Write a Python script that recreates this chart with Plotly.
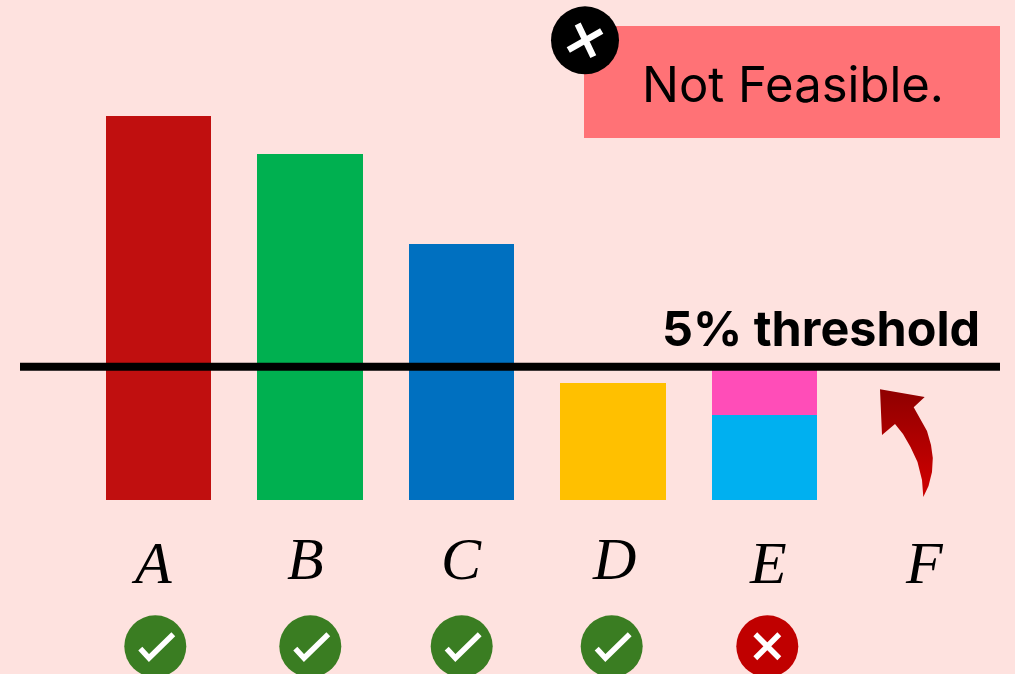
import plotly.graph_objects as go

categories = ["A", "B", "C", "D", "E", "F"]
solid_values = [14.40, 12.98, 9.60, 4.39, 3.19, 0]
solid_colors = ["#C00F0F", "#00B050", "#0070C0", "#FFC000", "#00B0F0", "#00B0F0"]
upper_values = [0, 0, 0, 0, 1.81, 0]
upper_color = "#FF4DB8"
threshold = 5
threshold_label = "5% threshold"
banner_label = "Not Feasible."
status = ["ok", "ok", "ok", "ok", "fail"]

# Decoration layout, in page pixels (drawn on a hidden overlay axis pair)
W, H = 1015, 674
UNIT_X, ZERO_X = 151.5, 158.5
UNIT_Y, ZERO_Y = 26.66, 500
status_x = [155.3, 310.3, 461.7, 611.7, 767.3]
status_y = 646.3
label_x = [151, 305, 461, 614, 768, 924]
label_y = [563, 559, 559, 559, 563, 563]
arrow_x = [880, 924.7, 913.7, 921, 927, 931, 932.8, 932, 928.5, 923.3, 922, 917.5, 910.5, 903, 895, 882, 880]
arrow_y = [389.3, 397, 407.3, 420, 431, 445, 458, 472, 486, 497, 480, 462, 447, 434, 424, 435, 389.3]

fig = go.Figure()
fig.add_bar(x=categories, y=solid_values, marker=dict(color=solid_colors, line_width=0), width=0.695)
fig.add_bar(x=categories, y=upper_values, marker=dict(color=upper_color, line_width=0), width=0.695)

fig.add_scatter(
    x=status_x, y=[status_y] * len(status_x), xaxis="x2", yaxis="y2", mode="markers",
    marker=dict(size=62, line_width=0, color=["#3A7D22" if s == "ok" else "#C00000" for s in status]),
)
fig.add_scatter(
    x=[585], y=[40.3], xaxis="x2", yaxis="y2", mode="markers",
    marker=dict(size=68, color="#000000", line_width=0),
)
fig.add_scatter(
    x=arrow_x, y=arrow_y, xaxis="x2", yaxis="y2", mode="lines", fill="toself",
    line=dict(width=0),
    fillgradient=dict(type="vertical", start=395, stop=480,
                      colorscale=[[0, "#920000"], [1, "#C80000"]]),
)

shapes = [
    dict(type="rect", xref="x2", yref="y2", x0=584, x1=1000, y0=26, y1=138,
         fillcolor="#FF7276", line_width=0, layer="below"),
    dict(type="line", xref="paper", yref="y", x0=20 / W, x1=1000 / W, y0=threshold, y1=threshold,
         line=dict(color="#000000", width=8)),
]


def stroke(path, width, color="#FFFFFF"):
    shapes.append(dict(type="path", xref="x2", yref="y2", path=path, line=dict(color=color, width=width)))


for sx, s in zip(status_x, status):
    if s == "ok":
        stroke(f"M{sx-15},{status_y+2.3} L{sx-6.3},{status_y+11.7} L{sx+18},{status_y-12}", 5.5)
    else:
        stroke(f"M{sx-12},{status_y-12} L{sx+12},{status_y+12} M{sx-12},{status_y+12} L{sx+12},{status_y-12}", 5.5)
stroke("M568.3,50 L601.7,31 M577.7,24 L593.3,56.6", 6.5)

annotations = [
    dict(text=f"<i>{c}</i>", x=x, y=y, xref="x2", yref="y2", showarrow=False,
         font=dict(family="Liberation Serif", size=60, color="#000000"))
    for c, x, y in zip(categories, label_x, label_y)
]
annotations += [
    dict(text=banner_label, x=793, y=84, xref="x2", yref="y2", showarrow=False,
         font=dict(family="Inter", size=49, color="#000000")),
    dict(text=f"<b>{threshold_label}</b>", x=821, y=328, xref="x2", yref="y2", showarrow=False,
         font=dict(family="Inter", size=48.5, color="#000000")),
]

fig.update_layout(
    width=W, height=H, margin=dict(l=0, r=0, t=0, b=0), autosize=False,
    paper_bgcolor="#FEE2DF", plot_bgcolor="rgba(0,0,0,0)",
    barmode="stack", showlegend=False, shapes=shapes, annotations=annotations,
    xaxis=dict(visible=False, type="category", categoryorder="array", categoryarray=categories,
               range=[-ZERO_X / UNIT_X, (W - ZERO_X) / UNIT_X], fixedrange=True),
    yaxis=dict(visible=False, range=[-(H - ZERO_Y) / UNIT_Y, ZERO_Y / UNIT_Y], fixedrange=True),
    xaxis2=dict(visible=False, overlaying="x", range=[0, W], fixedrange=True),
    yaxis2=dict(visible=False, overlaying="y", range=[H, 0], fixedrange=True),
)

fig.write_html(
    "out.html",
    config=dict(displayModeBar=False),
    post_script='document.body.style.margin="0";document.body.style.overflow="hidden";'
                'document.body.style.background="#FEE2DF";',
)
